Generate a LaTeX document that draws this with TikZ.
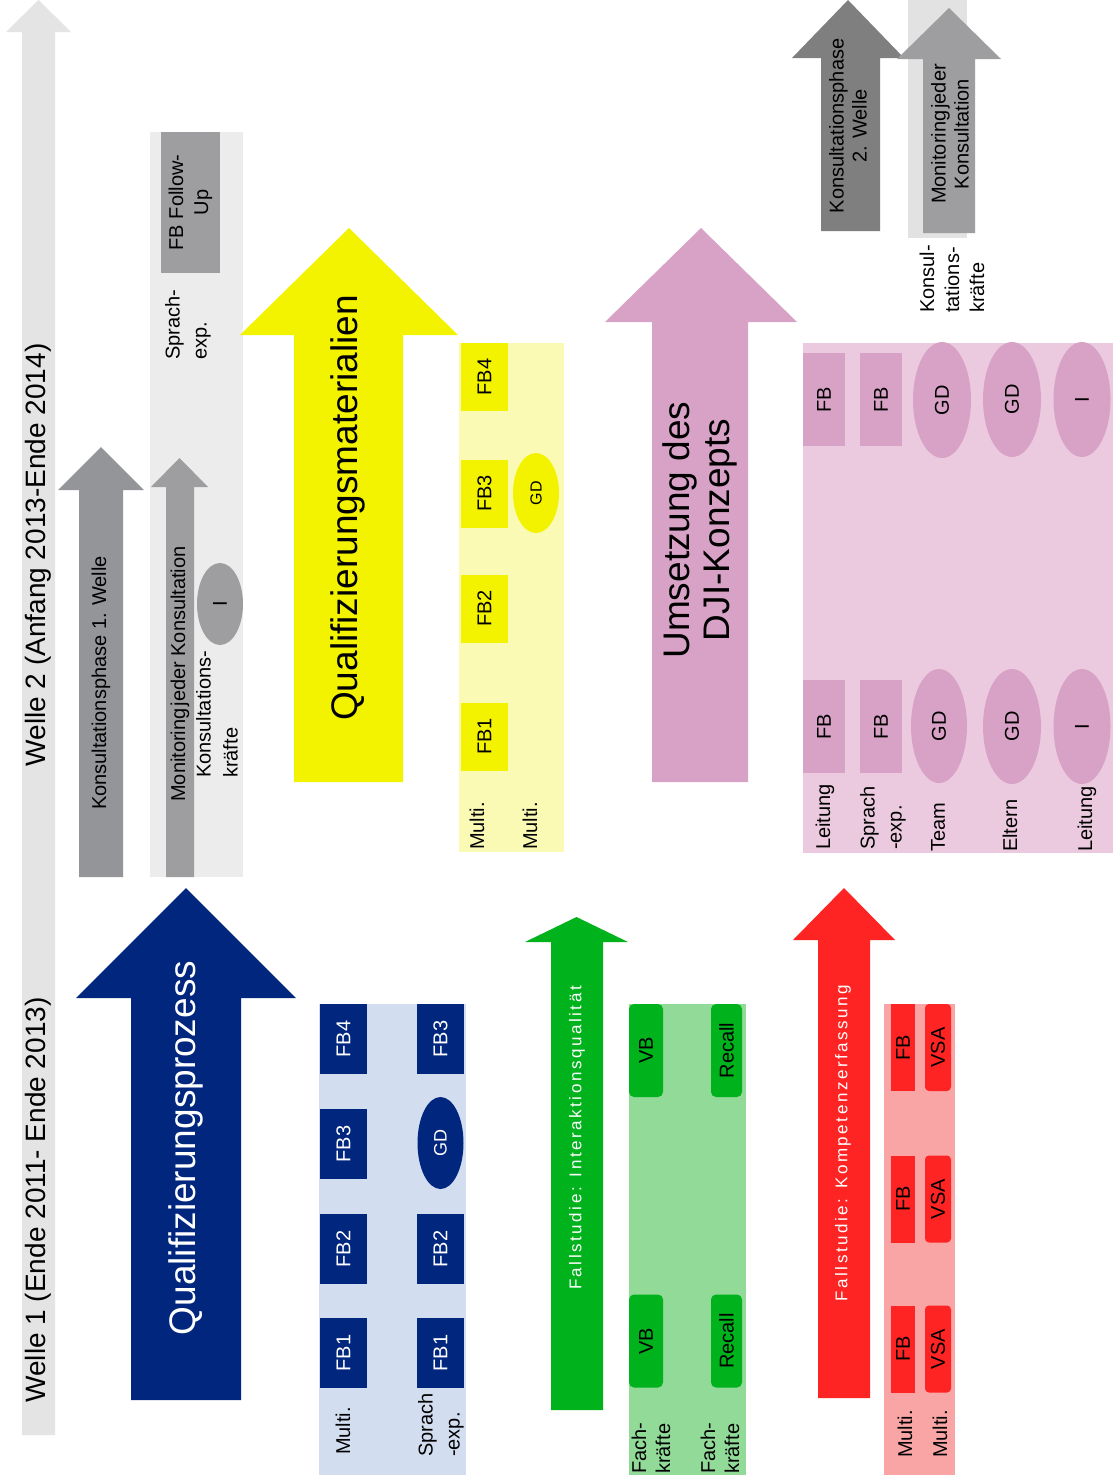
\documentclass[tikz,border=0pt]{standalone}
\usepackage{fontspec}
\setmainfont{Liberation Sans}
\usetikzlibrary{shapes.geometric}
\definecolor{tlgray}{RGB}{228,228,228}
\definecolor{kgray}{RGB}{147,149,152}
\definecolor{mgray}{RGB}{158,158,160}
\definecolor{pgray}{RGB}{236,236,236}
\definecolor{navy}{RGB}{0,38,125}
\definecolor{bluepanel}{RGB}{210,222,240}
\definecolor{yel}{RGB}{243,243,0}
\definecolor{yelpanel}{RGB}{250,250,180}
\definecolor{pinkc}{RGB}{216,162,198}
\definecolor{pinkpanel}{RGB}{235,202,223}
\definecolor{grn}{RGB}{0,178,28}
\definecolor{grnpanel}{RGB}{145,218,152}
\definecolor{redc}{RGB}{255,36,36}
\definecolor{redpanel}{RGB}{250,165,165}
\definecolor{dgray}{RGB}{127,127,127}
\definecolor{tpgray}{RGB}{226,226,226}
\newcommand\fsz[2]{\fontsize{#1}{#2}\selectfont}
% #1 colour, #2 shaft left, #3 shaft right, #4 bottom, #5 head base, #6 head left, #7 head right, #8 tip y
\newcommand\myarrow[8]{\fill[#1] (#2,#4) -- (#2,#5) -- (#6,#5) -- ({(#6+#7)/2},#8) -- (#7,#5) -- (#3,#5) -- (#3,#4) -- cycle;}
\tikzset{
  rtxt/.style={rotate=90, inner sep=0pt, align=center},
  lab/.style={rotate=90, inner sep=0pt, align=left, anchor=west, font=\fsz{20}{25}},
  bx/.style={rotate=90, inner sep=0pt, font=\fsz{20}{23}},
  ell/.style={ellipse, rotate=90, inner sep=0pt, font=\fsz{20}{23}},
  bigtxt/.style={rtxt, font=\fsz{37}{40}},
  midtxt/.style={rtxt, font=\fsz{20}{23}},
  fall/.style={rtxt, text=white, font=\fsz{17}{20}\addfontfeatures{LetterSpace=15}}
}
\begin{document}
\begin{tikzpicture}[x=1pt,y=-1pt]
\fill[white] (0,0) rectangle (1116,1483);
\useasboundingbox (0,0) rectangle (1116,1483);

% timeline
\myarrow{tlgray}{22}{55}{1435}{32}{6}{71}{0}
\node[rtxt, font=\fsz{28}{32}] (w1) at (38,1200) {Welle 1 (Ende 2011- Ende 2013)};
\node[rtxt, font=\fsz{28}{32}] (w2) at (38,555) {Welle 2 (Anfang 2013-Ende 2014)};

% Konsultation wave 1
\myarrow{kgray}{79}{123}{877}{490}{58}{144}{447}
\node[midtxt] (k1) at (101,683) {Konsultationsphase 1. Welle};
\fill[pgray] (150,132) rectangle (243,877);
\myarrow{mgray}{166}{194}{877}{487}{151}{208}{458}
\node[midtxt] (m1) at (180,674) {Monitoring\hspace{2pt}jeder Konsultation};
\node[bx, fill=mgray, minimum width=141, minimum height=59, align=center, font=\fsz{20}{25}] (fbf) at (190.5,202.5) {FB Follow-\\Up};
\node[lab, font=\fsz{20}{27}] (spr1) at (188,360) {Sprach-\\exp.};
\node[ell, fill=mgray, minimum width=82, minimum height=46] (i1) at (220,604) {I};
\node[lab, font=\fsz{20}{27}] (kk1) at (217,778) {Konsultations-\\kräfte};

% Qualifizierungsprozess
\myarrow{navy}{131}{241}{1400}{998}{76}{296}{888}
\node[bigtxt, text=white] (qp) at (186,1148) {Qualifizierungsprozess};
\fill[bluepanel] (319,1004) rectangle (466,1475);
\foreach \n/\y in {4/1039,3/1144,2/1249,1/1353}
  \node[bx, fill=navy, text=white, minimum width=70, minimum height=47] (ba\n) at (343.5,\y) {FB\n};
\node[bx, fill=navy, text=white, minimum width=70, minimum height=47] (bb3) at (440.5,1039) {FB3};
\node[ell, fill=navy, text=white, minimum width=92, minimum height=46, font=\fsz{18}{20}] (bgd) at (440.5,1143) {GD};
\node[bx, fill=navy, text=white, minimum width=70, minimum height=47] (bb2) at (440.5,1249) {FB2};
\node[bx, fill=navy, text=white, minimum width=70, minimum height=47] (bb1) at (440.5,1353) {FB1};
\node[lab] (bm) at (343,1455) {Multi.};
\node[lab, font=\fsz{20}{27}] (bs) at (441,1457) {Sprach\\-exp.};

% Qualifizierungsmaterialien
\myarrow{yel}{294}{403}{782}{335}{240}{458}{228}
\node[bigtxt] (qm) at (348,508) {Qualifizierungsmaterialien};
\fill[yelpanel] (459,343) rectangle (564,852);
\foreach \n/\y in {4/377,3/493.5,2/608.5,1/736.5}
  \node[bx, fill=yel, minimum width=68, minimum height=47] (y\n) at (484.5,\y) {FB\n};
\node[ell, fill=yel, minimum width=80, minimum height=46, font=\fsz{16}{18}] (ygd) at (536,493) {GD};
\node[lab] (ym1) at (477,850) {Multi.};
\node[lab] (ym2) at (530,850) {Multi.};

% Fallstudie Interaktionsqualitaet
\myarrow{grn}{551}{603}{1410}{942}{525}{628}{917}
\node[fall] (fi) at (577,1138) {Fallstudie: Interaktionsqualität};
\fill[grnpanel] (629,1004) rectangle (746,1475);
\node[bx, fill=grn, rounded corners=5pt, minimum width=93, minimum height=34] (vb1) at (646,1050.5) {VB};
\node[bx, fill=grn, rounded corners=5pt, minimum width=93, minimum height=34] (vb2) at (646,1341) {VB};
\node[bx, fill=grn, rounded corners=5pt, minimum width=93, minimum height=31] (rc1) at (726.5,1050.5) {Recall};
\node[bx, fill=grn, rounded corners=5pt, minimum width=93, minimum height=31] (rc2) at (726.5,1341) {Recall};
\node[lab, font=\fsz{20}{24}] (fk1) at (651,1474) {Fach-\\kräfte};
\node[lab, font=\fsz{20}{24}] (fk2) at (720,1474) {Fach-\\kräfte};

% Umsetzung
\myarrow{pinkc}{652}{748}{782}{322}{605}{797}{228}
\node[bigtxt] (um) at (700,530) {Umsetzung des\\DJI-Konzepts};
\fill[pinkpanel] (803,343) rectangle (1113,853);
\foreach \y/\t in {399.5/a,726.5/b}{
  \node[bx, fill=pinkc, minimum width=93, minimum height=42] (pl\t) at (824,\y) {FB};
  \node[bx, fill=pinkc, minimum width=93, minimum height=42] (ps\t) at (881,\y) {FB};
  \node[ell, fill=pinkc, minimum width=115, minimum height=58] (pe\t) at (1012,\y) {GD};
  \node[ell, fill=pinkc, minimum width=115, minimum height=57] (pi\t) at (1082,\y) {I};
}
\node[ell, fill=pinkc, minimum width=116, minimum height=58] (pta) at (942,400) {GD};
\node[ell, fill=pinkc, minimum width=114, minimum height=56] (ptb) at (939,726) {GD};
\node[lab] (pll) at (825,850) {Leitung};
\node[lab, font=\fsz{20}{27}] (pls) at (883,850) {Sprach\\-exp.};
\node[lab] (plt) at (938,852) {Team};
\node[lab] (ple) at (1010,852) {Eltern};
\node[lab] (pli) at (1087,852) {Leitung};

% Fallstudie Kompetenzerfassung
\myarrow{redc}{818}{870}{1398}{940}{793}{895}{888}
\node[fall] (fk) at (843,1143) {Fallstudie: Kompetenzerfassung};
\fill[redpanel] (884,1004) rectangle (955,1475);
\foreach \y/\t in {1047.5/a,1199/b,1349/c}{
  \node[bx, fill=redc, minimum width=87, minimum height=24] (rf\t) at (903,\y) {FB};
  \node[bx, fill=redc, rounded corners=4pt, minimum width=87, minimum height=26] (rv\t) at (938,\y) {VSA};
}
\node[lab] (rm1) at (905,1458) {Multi.};
\node[lab] (rm2) at (940,1458) {Multi.};

% Konsultation wave 2
\myarrow{dgray}{821}{880}{231}{58}{792}{904}{0}
\node[midtxt] (k2) at (848,126) {Konsultationsphase\\2. Welle};
\fill[tpgray] (908,0) rectangle (967,238);
\myarrow{mgray}{923}{975}{233}{59}{897}{1001}{8}
\node[midtxt] (m2) at (950,134) {Monitoring\hspace{2pt}jeder\\Konsultation};
\node[lab, font=\fsz{20}{25}] (kk2) at (952,313) {Konsul-\\tations-\\kräfte};
\end{tikzpicture}
\end{document}
